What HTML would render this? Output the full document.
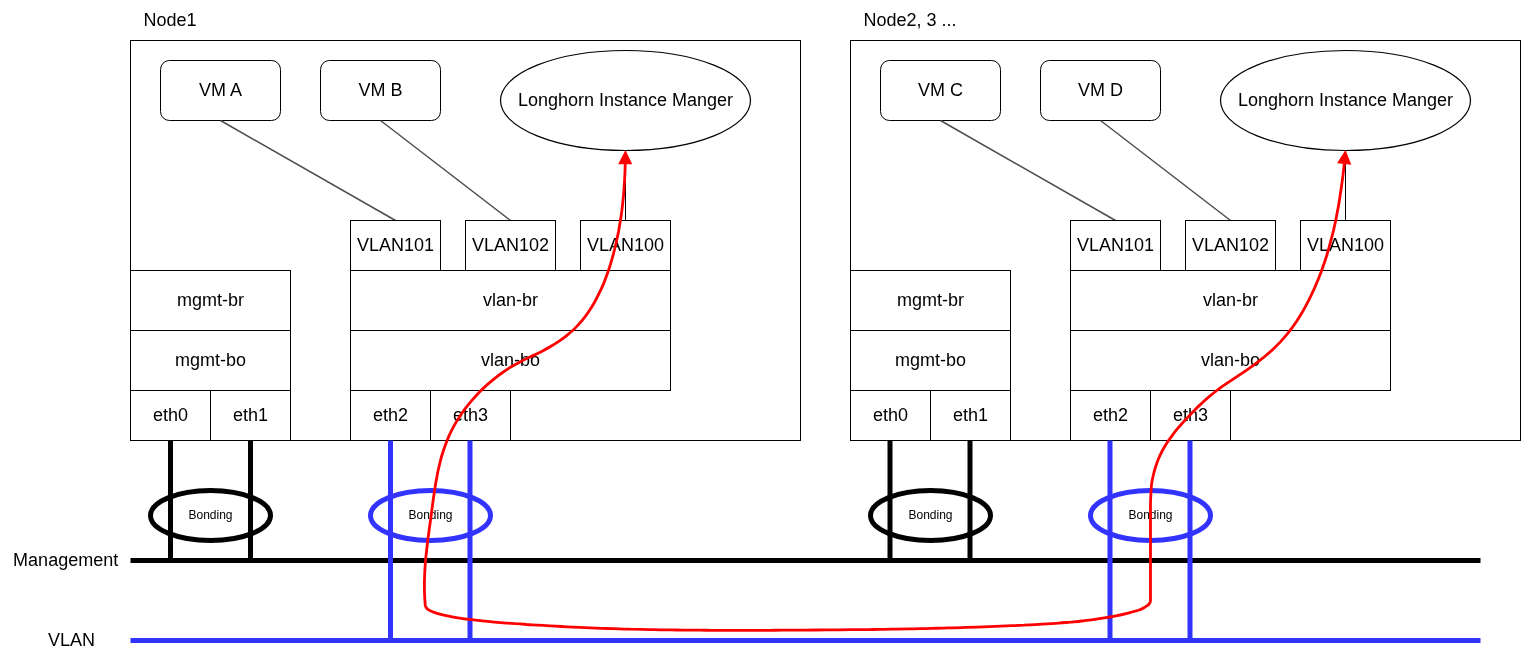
<!DOCTYPE html>
<html><head><meta charset="utf-8"><title>Network diagram</title>
<style>
html,body{margin:0;padding:0;background:#fff;}
body{width:1521px;height:661px;overflow:hidden;}
svg{display:block;will-change:transform;font-family:"Liberation Sans",Arial,Helvetica,sans-serif;}
text{fill:#000;}
.b{fill:none;stroke:#000;stroke-width:1;}
.g{fill:none;stroke:#4d4d4d;stroke-width:1.5;}
.e{fill:none;stroke:#000;stroke-width:1.2;}
.k5{fill:none;stroke:#000;stroke-width:5;}
.u5{fill:none;stroke:#3333ff;stroke-width:5;}
.r{fill:none;stroke:#ff0000;stroke-width:2.8;stroke-linejoin:round;}
</style></head><body>
<svg width="1521" height="661" viewBox="0 0 1521 661">
<rect width="1521" height="661" fill="#fff"/>
<g transform="translate(0.5,0.5)">
<path d="M130 560 L1480 560" class="k5"/>
<path d="M130 640 L1480 640" class="u5"/>
<text x="143" y="25" font-size="18">Node1</text>
<rect x="130" y="40" width="670" height="400" class="b"/>
<rect x="160" y="60" width="120" height="60" rx="9" ry="9" class="b"/>
<text x="220" y="95" font-size="18" text-anchor="middle">VM A</text>
<rect x="320" y="60" width="120" height="60" rx="9" ry="9" class="b"/>
<text x="380" y="95" font-size="18" text-anchor="middle">VM B</text>
<path d="M500 100 A125 50 0 1 1 750 100 A125 50 0 1 1 500 100 Z" class="e"/>
<path d="M624.5 50 h1 M624.5 150 h1 M500 99.5 v1 M750 99.5 v1" class="b"/>
<text x="625" y="105" font-size="18" text-anchor="middle">Longhorn Instance Manger</text>
<path d="M220 120 L395 220" class="g"/>
<path d="M380 120 L510 220" class="g"/>
<path d="M625 150 L625 220" class="b"/>
<rect x="350" y="220" width="90" height="50" class="b"/>
<text x="395" y="250" font-size="18" text-anchor="middle">VLAN101</text>
<rect x="465" y="220" width="90" height="50" class="b"/>
<text x="510" y="250" font-size="18" text-anchor="middle">VLAN102</text>
<rect x="580" y="220" width="90" height="50" class="b"/>
<text x="625" y="250" font-size="18" text-anchor="middle">VLAN100</text>
<rect x="350" y="270" width="320" height="60" class="b"/>
<text x="510" y="305" font-size="18" text-anchor="middle">vlan-br</text>
<rect x="350" y="330" width="320" height="60" class="b"/>
<text x="510" y="365" font-size="18" text-anchor="middle">vlan-bo</text>
<rect x="130" y="270" width="160" height="60" class="b"/>
<text x="210" y="305" font-size="18" text-anchor="middle">mgmt-br</text>
<rect x="130" y="330" width="160" height="60" class="b"/>
<text x="210" y="365" font-size="18" text-anchor="middle">mgmt-bo</text>
<rect x="130" y="390" width="80" height="50" class="b"/>
<text x="170" y="420" font-size="18" text-anchor="middle">eth0</text>
<rect x="210" y="390" width="80" height="50" class="b"/>
<text x="250" y="420" font-size="18" text-anchor="middle">eth1</text>
<rect x="350" y="390" width="80" height="50" class="b"/>
<text x="390" y="420" font-size="18" text-anchor="middle">eth2</text>
<rect x="430" y="390" width="80" height="50" class="b"/>
<text x="470" y="420" font-size="18" text-anchor="middle">eth3</text>
<path d="M170 440 L170 560" class="k5"/>
<path d="M250 440 L250 560" class="k5"/>
<path d="M390 440 L390 640" class="u5"/>
<path d="M469.5 440 L469.5 640" class="u5"/>
<ellipse cx="210" cy="515" rx="60" ry="25" class="k5"/>
<text x="210" y="518" font-size="12" text-anchor="middle">Bonding</text>
<ellipse cx="430" cy="515" rx="60" ry="25" class="u5"/>
<text x="430" y="518" font-size="12" text-anchor="middle">Bonding</text>
<text x="863" y="25" font-size="18">Node2, 3 ...</text>
<rect x="850" y="40" width="670" height="400" class="b"/>
<rect x="880" y="60" width="120" height="60" rx="9" ry="9" class="b"/>
<text x="940" y="95" font-size="18" text-anchor="middle">VM C</text>
<rect x="1040" y="60" width="120" height="60" rx="9" ry="9" class="b"/>
<text x="1100" y="95" font-size="18" text-anchor="middle">VM D</text>
<path d="M1220 100 A125 50 0 1 1 1470 100 A125 50 0 1 1 1220 100 Z" class="e"/>
<path d="M1344.5 50 h1 M1344.5 150 h1 M1220 99.5 v1 M1470 99.5 v1" class="b"/>
<text x="1345" y="105" font-size="18" text-anchor="middle">Longhorn Instance Manger</text>
<path d="M940 120 L1115 220" class="g"/>
<path d="M1100 120 L1230 220" class="g"/>
<path d="M1345 150 L1345 220" class="b"/>
<rect x="1070" y="220" width="90" height="50" class="b"/>
<text x="1115" y="250" font-size="18" text-anchor="middle">VLAN101</text>
<rect x="1185" y="220" width="90" height="50" class="b"/>
<text x="1230" y="250" font-size="18" text-anchor="middle">VLAN102</text>
<rect x="1300" y="220" width="90" height="50" class="b"/>
<text x="1345" y="250" font-size="18" text-anchor="middle">VLAN100</text>
<rect x="1070" y="270" width="320" height="60" class="b"/>
<text x="1230" y="305" font-size="18" text-anchor="middle">vlan-br</text>
<rect x="1070" y="330" width="320" height="60" class="b"/>
<text x="1230" y="365" font-size="18" text-anchor="middle">vlan-bo</text>
<rect x="850" y="270" width="160" height="60" class="b"/>
<text x="930" y="305" font-size="18" text-anchor="middle">mgmt-br</text>
<rect x="850" y="330" width="160" height="60" class="b"/>
<text x="930" y="365" font-size="18" text-anchor="middle">mgmt-bo</text>
<rect x="850" y="390" width="80" height="50" class="b"/>
<text x="890" y="420" font-size="18" text-anchor="middle">eth0</text>
<rect x="930" y="390" width="80" height="50" class="b"/>
<text x="970" y="420" font-size="18" text-anchor="middle">eth1</text>
<rect x="1070" y="390" width="80" height="50" class="b"/>
<text x="1110" y="420" font-size="18" text-anchor="middle">eth2</text>
<rect x="1150" y="390" width="80" height="50" class="b"/>
<text x="1190" y="420" font-size="18" text-anchor="middle">eth3</text>
<path d="M889.5 440 L889.5 560" class="k5"/>
<path d="M969.5 440 L969.5 560" class="k5"/>
<path d="M1109.5 440 L1109.5 640" class="u5"/>
<path d="M1189.5 440 L1189.5 640" class="u5"/>
<ellipse cx="930" cy="515" rx="60" ry="25" class="k5"/>
<text x="930" y="518" font-size="12" text-anchor="middle">Bonding</text>
<ellipse cx="1150" cy="515" rx="60" ry="25" class="u5"/>
<text x="1150" y="518" font-size="12" text-anchor="middle">Bonding</text>
<text x="117.7" y="565" font-size="18" text-anchor="end">Management</text>
<text x="94.5" y="645" font-size="18" text-anchor="end">VLAN</text>
</g>
<path d="M625.3 157.9C625.3 159.7 625.2 165.2 625.1 168.8C625.0 172.4 624.8 176.0 624.6 179.6C624.4 183.1 624.2 186.6 623.9 190.1C623.7 193.6 623.4 197.1 623.0 200.6C622.6 204.1 622.2 207.5 621.8 211.0C621.3 214.4 620.8 217.9 620.3 221.3C619.7 224.8 619.1 228.2 618.5 231.7C617.8 235.1 617.1 238.6 616.3 242.0C615.5 245.5 614.7 249.0 613.8 252.5C612.9 256.0 611.9 259.5 610.9 262.9C609.8 266.4 608.7 269.8 607.5 273.3C606.3 276.7 605.0 280.1 603.7 283.4C602.3 286.7 600.8 290.0 599.2 293.2C597.7 296.5 596.0 299.6 594.3 302.7C592.5 305.8 590.6 308.8 588.6 311.7C586.7 314.6 584.6 317.4 582.4 320.1C580.1 322.8 577.8 325.4 575.4 327.9C572.9 330.4 570.3 332.7 567.6 334.9C564.9 337.1 562.0 339.2 559.1 341.2C556.2 343.2 553.2 345.1 550.1 346.8C547.1 348.6 543.9 350.2 540.7 351.9C537.6 353.5 534.3 355.0 531.1 356.5C527.9 358.1 524.7 359.5 521.5 361.2C518.4 362.8 515.3 364.5 512.2 366.3C509.2 368.0 506.2 370.0 503.3 372.0C500.4 374.0 497.5 376.1 494.8 378.3C492.0 380.5 489.3 382.8 486.7 385.1C484.1 387.5 481.5 390.0 479.0 392.5C476.6 395.1 474.2 397.7 471.9 400.4C469.6 403.1 467.3 405.9 465.2 408.7C463.0 411.6 461.0 414.5 459.1 417.5C457.1 420.4 455.3 423.5 453.6 426.6C451.9 429.7 450.4 432.9 448.9 436.1C447.5 439.3 446.2 442.6 445.0 445.9C443.8 449.3 442.7 452.6 441.7 456.0C440.7 459.4 439.9 462.9 439.1 466.3C438.2 469.8 437.5 473.2 436.9 476.7C436.2 480.2 435.6 483.7 435.1 487.2C434.5 490.7 434.0 494.2 433.5 497.7C433.0 501.2 432.6 504.8 432.1 508.3C431.6 511.8 431.2 515.3 430.7 518.9C430.2 522.4 429.7 525.9 429.2 529.4C428.8 532.9 428.3 536.4 427.8 540.0C427.4 543.5 427.0 547.0 426.6 550.5C426.2 554.0 425.8 557.5 425.5 561.0C425.2 564.6 425.0 568.1 424.8 571.6C424.6 575.1 424.5 578.7 424.4 582.2C424.4 585.8 424.4 589.3 424.5 592.9C424.6 596.4 425.0 601.4 425.1 603.5C425.2 605.6 425.1 604.9 425.3 605.6C425.5 606.3 425.7 606.9 426.2 607.6C426.7 608.3 427.4 609.0 428.2 609.6C429.0 610.2 430.0 610.6 431.0 611.1C432.0 611.6 432.7 611.9 434.2 612.4C435.7 612.9 438.0 613.7 440.0 614.2C442.0 614.8 443.4 615.1 446.3 615.7C449.2 616.3 453.9 617.2 457.7 617.8C461.5 618.4 465.3 618.9 469.1 619.4C473.0 619.9 476.8 620.3 480.6 620.7C484.5 621.1 488.3 621.5 492.1 621.8C496.0 622.2 499.8 622.5 503.7 622.8C507.5 623.1 511.3 623.4 515.2 623.7C519.0 623.9 522.9 624.2 526.7 624.5C530.6 624.7 534.4 625.0 538.2 625.2C542.1 625.5 545.9 625.7 549.8 625.9C553.6 626.1 557.5 626.3 561.3 626.5C565.2 626.7 569.0 626.9 572.9 627.1C576.7 627.3 580.6 627.5 584.4 627.6C588.3 627.8 592.1 627.9 596.0 628.1C599.8 628.2 603.7 628.4 607.5 628.5C611.4 628.6 615.2 628.7 619.1 628.8C622.9 629.0 626.8 629.1 630.7 629.2C634.5 629.2 638.4 629.3 642.2 629.4C646.1 629.5 649.9 629.6 653.8 629.6C657.6 629.7 661.5 629.8 665.4 629.8C669.2 629.9 673.1 629.9 676.9 630.0C680.8 630.0 684.6 630.1 688.5 630.1C692.4 630.1 696.2 630.2 700.1 630.2C703.9 630.2 707.8 630.3 711.6 630.3C715.5 630.3 719.4 630.3 723.2 630.3C727.1 630.3 730.9 630.3 734.8 630.3C738.6 630.3 742.5 630.3 746.4 630.3C750.2 630.3 754.1 630.3 757.9 630.3C761.8 630.3 765.6 630.3 769.5 630.3C773.4 630.3 777.2 630.2 781.1 630.2C784.9 630.2 788.8 630.2 792.6 630.2C796.5 630.1 800.3 630.1 804.2 630.1C808.1 630.1 811.9 630.1 815.8 630.0C819.6 630.0 823.5 630.0 827.3 629.9C831.2 629.9 835.0 629.9 838.9 629.8C842.8 629.8 846.6 629.8 850.5 629.7C854.3 629.7 858.2 629.7 862.0 629.6C865.9 629.6 869.7 629.5 873.6 629.5C877.4 629.4 881.3 629.4 885.1 629.3C889.0 629.2 892.8 629.2 896.7 629.1C900.5 629.0 904.4 629.0 908.3 628.9C912.1 628.8 916.0 628.8 919.8 628.7C923.7 628.6 927.5 628.5 931.4 628.4C935.2 628.3 939.1 628.2 942.9 628.1C946.8 628.0 950.6 627.9 954.5 627.8C958.3 627.7 962.2 627.6 966.0 627.4C969.9 627.3 973.8 627.2 977.6 627.1C981.5 626.9 985.3 626.8 989.2 626.6C993.0 626.5 996.9 626.3 1000.7 626.2C1004.6 626.0 1008.4 625.9 1012.3 625.7C1016.1 625.5 1020.0 625.3 1023.9 625.2C1027.7 625.0 1031.6 624.8 1035.4 624.6C1039.3 624.4 1043.1 624.2 1047.0 623.9C1050.8 623.7 1054.7 623.4 1058.5 623.1C1062.4 622.9 1066.2 622.5 1070.0 622.2C1073.9 621.8 1077.7 621.5 1081.5 621.0C1085.4 620.6 1089.2 620.1 1093.0 619.6C1096.8 619.1 1100.6 618.5 1104.4 617.9C1108.2 617.3 1112.0 616.6 1115.8 615.8C1119.6 615.1 1123.2 614.3 1127.1 613.3C1131.0 612.3 1136.2 611.1 1139.2 610.0C1142.2 608.9 1143.9 607.6 1145.3 606.9C1146.7 606.1 1146.8 606.0 1147.5 605.5C1148.2 605.0 1148.8 604.5 1149.2 603.9C1149.7 603.3 1150.0 602.7 1150.2 602.0C1150.4 601.3 1150.5 601.5 1150.5 599.5C1150.5 597.5 1150.5 596.6 1150.5 590.0C1150.5 583.4 1150.5 570.0 1150.5 560.0C1150.5 550.0 1150.5 538.3 1150.5 530.0C1150.5 521.7 1150.5 515.0 1150.5 510.0C1150.5 505.0 1150.4 504.2 1150.6 500.0C1150.8 495.8 1151.1 488.9 1151.5 484.9C1151.9 481.0 1152.4 479.0 1153.1 476.1C1153.7 473.2 1154.5 470.3 1155.4 467.5C1156.3 464.6 1157.3 461.8 1158.4 459.0C1159.5 456.3 1160.8 453.6 1162.2 451.0C1163.6 448.3 1165.1 445.7 1166.7 443.2C1168.3 440.7 1170.1 438.2 1171.9 435.8C1173.7 433.4 1175.6 431.0 1177.5 428.7C1179.5 426.4 1181.5 424.1 1183.5 421.8C1185.6 419.6 1187.6 417.4 1189.7 415.2C1191.8 413.0 1193.9 410.8 1196.0 408.7C1198.1 406.6 1200.3 404.6 1202.5 402.5C1204.7 400.5 1206.9 398.5 1209.2 396.6C1211.5 394.7 1213.8 392.8 1216.2 391.0C1218.6 389.2 1221.0 387.5 1223.4 385.7C1225.9 384.0 1228.4 382.3 1230.9 380.6C1233.4 379.0 1235.9 377.3 1238.4 375.6C1240.9 374.0 1243.4 372.3 1245.9 370.6C1248.4 368.9 1250.8 367.2 1253.3 365.4C1255.7 363.6 1258.1 361.8 1260.4 359.9C1262.8 358.1 1265.1 356.2 1267.4 354.2C1269.7 352.3 1271.9 350.3 1274.0 348.2C1276.2 346.2 1278.3 344.1 1280.4 341.9C1282.4 339.7 1284.4 337.5 1286.3 335.2C1288.2 332.9 1290.0 330.5 1291.8 328.1C1293.6 325.7 1295.3 323.2 1297.0 320.7C1298.6 318.2 1300.2 315.7 1301.8 313.1C1303.3 310.5 1304.8 307.8 1306.2 305.2C1307.6 302.5 1309.0 299.8 1310.3 297.1C1311.7 294.4 1312.9 291.6 1314.2 288.9C1315.4 286.1 1316.6 283.4 1317.7 280.6C1318.9 277.8 1319.9 275.0 1321.0 272.2C1322.0 269.4 1323.0 266.5 1324.0 263.7C1325.0 260.9 1325.9 258.0 1326.8 255.2C1327.7 252.3 1328.5 249.4 1329.3 246.6C1330.1 243.7 1330.9 240.8 1331.6 237.9C1332.4 235.0 1333.1 232.1 1333.8 229.2C1334.4 226.3 1335.1 223.4 1335.7 220.4C1336.3 217.5 1336.9 214.6 1337.4 211.6C1338.0 208.7 1338.5 205.7 1339.0 202.7C1339.5 199.8 1340.0 196.8 1340.4 193.8C1340.9 190.9 1341.3 187.9 1341.7 184.9C1342.1 181.9 1342.5 178.9 1342.9 175.9C1343.2 173.0 1343.6 170.0 1343.9 167.0C1344.2 164.0 1344.7 159.4 1344.9 157.9" class="r"/>
<path d="M625.5 150.1 L632.2 164.3 L618.1 164.3 Z" fill="#ff0000"/>
<path d="M1345.5 150.1 L1351.3 164.7 L1337.0 163.2 Z" fill="#ff0000"/>
</svg>
</body></html>
